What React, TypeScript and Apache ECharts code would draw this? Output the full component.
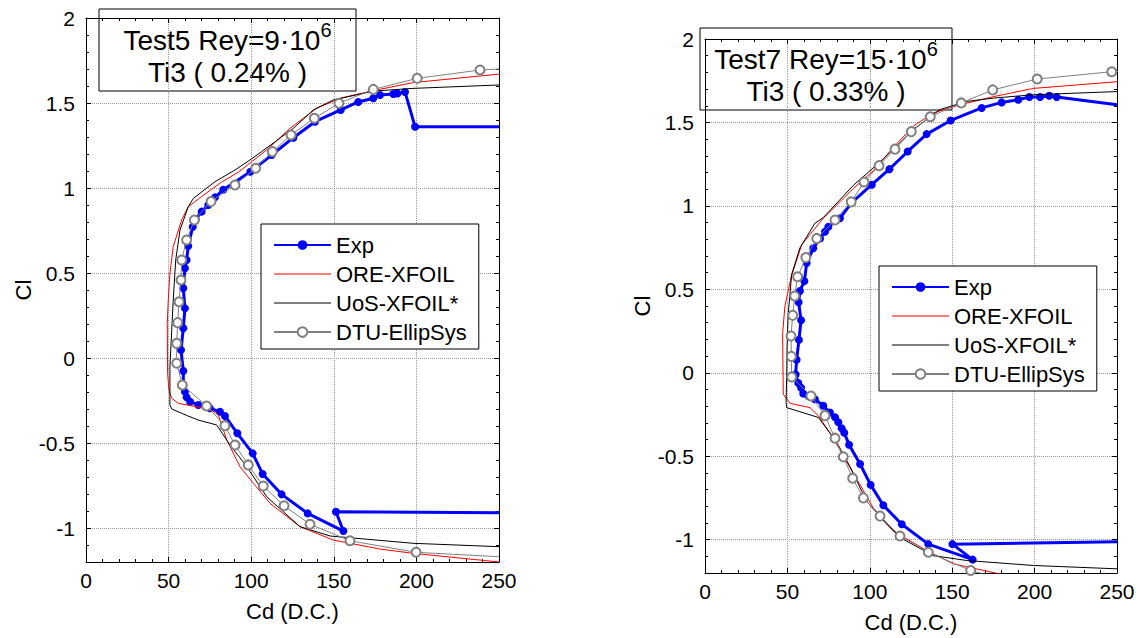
import React, { useEffect, useRef } from "react";
import * as echarts from "echarts";

const FONT = "'Liberation Sans', Arial, sans-serif";

const SERIES_NAMES = ["Exp", "ORE-XFOIL", "UoS-XFOIL*", "DTU-EllipSys"];
const X_TICKS = [0, 50, 100, 150, 200, 250];
const Y_RANGE = [-1.2, 2];

// ---- Test5, Rey = 9e6 ----
const exp5: number[][] = [
  [250, -0.91], [151.3, -0.904], [155.8, -1.018], [134.2, -0.914], [118.4, -0.802], [106.9, -0.682],
  [100.9, -0.561], [91.6, -0.443], [84.1, -0.341], [81.1, -0.316], [75, -0.296], [68, -0.276],
  [63, -0.257], [60.9, -0.231], [59.9, -0.198], [58.9, -0.169], [58.9, -0.076], [57.5, 0.047],
  [58.9, 0.175], [59.9, 0.292], [58.9, 0.41], [59.9, 0.528], [60.9, 0.576], [61.9, 0.659],
  [64.6, 0.772], [66.4, 0.816], [70, 0.861], [74, 0.9], [78.1, 0.945], [83.1, 0.99],
  [99.5, 1.096], [112.4, 1.194], [125.5, 1.296], [138.6, 1.39], [154.2, 1.459], [164.8, 1.506],
  [173.9, 1.528], [178, 1.547], [186, 1.553], [188.5, 1.556], [193.1, 1.565], [199.2, 1.36], [250, 1.36],
];
const ore5: number[][] = [
  [250, -1.2], [198.1, -1.149], [178, -1.124], [149.7, -1.071], [129.5, -0.992], [111.4, -0.855],
  [101.3, -0.737], [93.2, -0.639], [85.2, -0.482], [80.1, -0.335], [76.5, -0.31], [72, -0.296],
  [55.9, -0.267], [51.9, -0.237], [50.2, -0.188], [49.4, -0.09], [49.2, 0.204], [49.8, 0.341],
  [50.8, 0.498], [52.8, 0.655], [57.9, 0.812], [61.9, 0.89], [70, 0.95], [82.1, 1.035],
  [92.5, 1.095], [109.4, 1.224], [123.5, 1.351], [139.6, 1.469], [153.8, 1.528], [174, 1.573],
  [198, 1.62], [250, 1.67],
];
const uos5: number[][] = [
  [250, -1.11], [198, -1.09], [147.7, -1.047], [129.5, -0.992], [109.4, -0.816], [97.3, -0.639],
  [87.2, -0.512], [79.1, -0.394], [68, -0.365], [61.5, -0.34], [51.9, -0.3], [50.8, -0.276],
  [50.8, -0.228], [50.8, -0.051], [51.9, 0.165], [52.8, 0.341], [54.3, 0.576], [56.9, 0.753],
  [61.9, 0.89], [65, 0.939], [78.1, 1.037], [90.2, 1.106], [99.3, 1.165], [106.3, 1.214],
  [125.5, 1.351], [137.6, 1.459], [149.7, 1.518], [174, 1.57], [198, 1.586], [250, 1.606],
];
const dtu5: number[][] = [
  [250, -1.169], [199.8, -1.143], [159.8, -1.075], [135.6, -0.978], [119.9, -0.869], [107.3, -0.753],
  [98.2, -0.629], [90.2, -0.512], [84.1, -0.398], [73, -0.282], [58.3, -0.159], [54.9, -0.031],
  [54.9, 0.086], [55.5, 0.208], [56.3, 0.331], [57.5, 0.459], [57.9, 0.576], [60.9, 0.694],
  [65.6, 0.812], [75.7, 0.92], [90.2, 1.018], [102.7, 1.116], [112.8, 1.214], [124.1, 1.312],
  [138.2, 1.41], [153.1, 1.498], [173.9, 1.58], [200.5, 1.645], [238.5, 1.694], [250, 1.7],
];

// ---- Test7, Rey = 15e6 ----
const exp7: number[][] = [
  [250, -1.013], [150.1, -1.027], [162.4, -1.12], [135.5, -1.027], [119.4, -0.908], [108.2, -0.794],
  [100.5, -0.672], [94.1, -0.547], [87.4, -0.431], [84.5, -0.36], [82.9, -0.333], [80.9, -0.297],
  [78.9, -0.267], [75.8, -0.238], [71.8, -0.198], [66.7, -0.159], [62.7, -0.139], [59.6, -0.124],
  [58.3, -0.09], [56.6, -0.061], [55, -0.011], [55.6, 0.078], [57, 0.197], [58.3, 0.315],
  [56.8, 0.423], [57.6, 0.49], [60.3, 0.549], [61.7, 0.657], [65.7, 0.746], [69.8, 0.805],
  [72.8, 0.845], [74.8, 0.874], [81.9, 0.926], [89, 1.02], [101.2, 1.127], [111.9, 1.22],
  [123, 1.326], [134.5, 1.43], [149.1, 1.512], [167.9, 1.587], [180, 1.62], [190.1, 1.636],
  [196.8, 1.652], [203.3, 1.652], [208.9, 1.66], [213.4, 1.652], [250, 1.606],
];
const ore7: number[][] = [
  [190, -1.23], [150.7, -1.145], [134.5, -1.066], [114.3, -0.948], [102.1, -0.81], [94.1, -0.672],
  [86, -0.534], [76.9, -0.376], [68.7, -0.257], [63.7, -0.209], [51.6, -0.183], [47.5, -0.128],
  [47.1, 0.235], [48.5, 0.4], [52.2, 0.571], [58.7, 0.768], [71.8, 0.926], [90, 1.104],
  [102.1, 1.211], [114.3, 1.35], [126.4, 1.478], [138.5, 1.557], [155, 1.606], [175.2, 1.655],
  [199.3, 1.704], [219.5, 1.72], [250, 1.744],
];
const uos7: number[][] = [
  [250, -1.175], [199.3, -1.155], [158.8, -1.125], [138.5, -1.096], [118.3, -0.987], [110.3, -0.908],
  [98.1, -0.77], [88, -0.563], [79.9, -0.415], [68.8, -0.268], [49.6, -0.209], [49.2, -0.179],
  [49.6, -0.001], [49.8, 0.157], [50.5, 0.353], [52.6, 0.59], [57.6, 0.748], [66.7, 0.896],
  [71.8, 0.93], [90, 1.123], [108.2, 1.281], [126.4, 1.458], [142.6, 1.577], [158.8, 1.626],
  [175.2, 1.646], [199.3, 1.666], [250, 1.685],
];
const dtu7: number[][] = [
  [185, -1.25], [161.2, -1.185], [135.5, -1.076], [118.3, -0.978], [106.2, -0.859], [96.1, -0.75],
  [89.6, -0.632], [83.9, -0.504], [78.9, -0.392], [72.8, -0.257], [64.3, -0.139], [52.6, -0.025],
  [52.4, 0.098], [52.2, 0.22], [53.2, 0.344], [54.4, 0.46], [56.2, 0.575], [61.2, 0.69],
  [67.8, 0.805], [78.9, 0.915], [88.7, 1.024], [96.5, 1.143], [105.6, 1.241], [115.3, 1.34],
  [125.2, 1.445], [136.7, 1.534], [155.5, 1.617], [174.6, 1.695], [201.6, 1.76], [246.8, 1.804],
  [260, 1.81],
];

const TITLES = [
  { main: "Test5 Rey=9·10", sup: "6", sub: "Ti3 ( 0.24% )" },
  { main: "Test7 Rey=15·10", sup: "6", sub: "Ti3 ( 0.33% )" },
];

const toData = (pts: number[][]) =>
  pts.map(([x, y]) =>
    x >= X_TICKS[X_TICKS.length - 1] || y <= Y_RANGE[0] ? { value: [x, y], symbol: "none" } : [x, y]
  );

const GRIDS = [
  { left: 86, top: 18, width: 413, height: 544 },
  { left: 705, top: 39, width: 412, height: 541 },
];
const LEGEND_POS = [
  { left: 261, top: 224 },
  { left: 879, top: 266 },
];
const TITLE_BOX = [
  { x: 99, y: 9, w: 257, h: 82 },
  { x: 700, y: 28, w: 252, h: 82 },
];
const Y_NAME_GAP = [45, 44];

const LINE_ICON = "path://M0,0L57,0L57,1L0,1Z";

export default function App() {
  const ref = useRef<HTMLDivElement>(null);
  useEffect(() => {
    if (!ref.current) return;
    const chart = echarts.init(ref.current, null, { renderer: "svg" });
    const black = "#000";
    const datasets = [
      [exp5, ore5, uos5, dtu5],
      [exp7, ore7, uos7, dtu7],
    ];
    const xAxes: any[] = [];
    const yAxes: any[] = [];
    const series: any[] = [];
    const legends: any[] = [];
    const graphics: any[] = [];
    GRIDS.forEach((g, gi) => {
      const baseX = {
        gridIndex: gi,
        type: "value",
        min: X_TICKS[0],
        max: X_TICKS[X_TICKS.length - 1],
        interval: X_TICKS[1] - X_TICKS[0],
        axisLine: { show: true, onZero: false, lineStyle: { color: black, width: 1 } },
        axisTick: { show: true, inside: true, length: 5, lineStyle: { color: black } },
        minorTick: { show: true, splitNumber: 5, length: 3, lineStyle: { color: black } },
      };
      xAxes.push({
        ...baseX,
        position: "bottom",
        axisLabel: { fontSize: 21, color: black, fontFamily: FONT, margin: 8 },
        splitLine: { show: true, lineStyle: { color: "#999", type: "dotted", width: 1 } },
        name: "Cd (D.C.)",
        nameLocation: "middle",
        nameGap: 38,
        nameTextStyle: { fontSize: 22, color: black, fontFamily: FONT },
      });
      xAxes.push({
        ...baseX,
        position: "top",
        axisLabel: { show: false },
        splitLine: { show: false },
      });
      const baseY = {
        gridIndex: gi,
        type: "value",
        min: Y_RANGE[0],
        max: Y_RANGE[1],
        axisLine: { show: true, onZero: false, lineStyle: { color: black, width: 1 } },
        axisTick: { show: true, inside: true, length: 5, lineStyle: { color: black } },
        minorTick: { show: true, splitNumber: 5, length: 3, lineStyle: { color: black } },
      };
      yAxes.push({
        ...baseY,
        position: "left",
        axisLabel: { fontSize: 21, color: black, fontFamily: FONT, margin: 11, showMinLabel: false },
        splitLine: { show: true, lineStyle: { color: "#999", type: "dotted", width: 1 } },
        name: "Cl",
        nameLocation: "middle",
        nameGap: Y_NAME_GAP[gi],
        nameTextStyle: { fontSize: 22, color: black, fontFamily: FONT },
      });
      yAxes.push({
        ...baseY,
        position: "right",
        axisLabel: { show: false },
        splitLine: { show: false },
      });
      const [e, o, u, d] = datasets[gi];
      const xi = gi * 2;
      const yi = gi * 2;
      series.push({
        name: SERIES_NAMES[0], type: "line", xAxisIndex: xi, yAxisIndex: yi, data: toData(e),
        symbol: "circle", symbolSize: 8, lineStyle: { color: "#0000ff", width: 3 },
        itemStyle: { color: "#0000ff" }, z: 2,
      });
      series.push({
        name: SERIES_NAMES[1], type: "line", xAxisIndex: xi, yAxisIndex: yi, data: o,
        symbol: "none", lineStyle: { color: "#ff0000", width: 1 }, itemStyle: { color: "#ff0000" }, z: 3,
      });
      series.push({
        name: SERIES_NAMES[2], type: "line", xAxisIndex: xi, yAxisIndex: yi, data: u,
        symbol: "none", lineStyle: { color: "#000000", width: 1 }, itemStyle: { color: "#000000" }, z: 3,
      });
      series.push({
        name: SERIES_NAMES[3], type: "line", xAxisIndex: xi, yAxisIndex: yi, data: toData(d),
        symbol: "emptyCircle", symbolSize: 9, lineStyle: { color: "#808080", width: 1 },
        itemStyle: { color: "#808080", borderWidth: 1 }, z: 4,
      });
      legends.push({
        ...LEGEND_POS[gi],
        orient: "vertical",
        data: [
          { name: SERIES_NAMES[0] },
          { name: SERIES_NAMES[1], icon: LINE_ICON },
          { name: SERIES_NAMES[2], icon: LINE_ICON },
          { name: SERIES_NAMES[3] },
        ],
        selectedMode: false,
        backgroundColor: "#fff",
        borderColor: black,
        borderWidth: 1,
        borderRadius: 0,
        padding: [10, 12, 6, 12],
        itemWidth: 57,
        itemHeight: 12,
        itemGap: 7,
        textStyle: { fontSize: 22, color: black, fontFamily: FONT, lineHeight: 22 },
        z: 10,
      });
      const b = TITLE_BOX[gi];
      const t = TITLES[gi];
      graphics.push({
        type: "group",
        z: 100,
        children: [
          { type: "rect", shape: { x: b.x, y: b.y, width: b.w, height: b.h }, style: { fill: "#fff", stroke: black, lineWidth: 1 } },
          {
            type: "text", x: b.x + b.w / 2, y: b.y + 31,
            style: {
              text: `{m|${t.main}}{s|${t.sup}}`, align: "center", verticalAlign: "middle",
              rich: {
                m: { fontSize: 28, fontFamily: FONT, fill: black, lineHeight: 40 },
                s: { fontSize: 20, fontFamily: FONT, fill: black, lineHeight: 20, verticalAlign: "top" },
              },
            },
          },
          {
            type: "text", x: b.x + b.w / 2, y: b.y + 63,
            style: { text: t.sub, align: "center", verticalAlign: "middle", fontSize: 28, fontFamily: FONT, fill: black },
          },
        ],
      });
    });
    chart.setOption({
      animation: false,
      backgroundColor: "#fff",
      textStyle: { fontFamily: FONT },
      grid: GRIDS,
      xAxis: xAxes,
      yAxis: yAxes,
      legend: legends,
      series,
      graphic: graphics,
    });
    return () => chart.dispose();
  }, []);
  return <div ref={ref} style={{ position: "absolute", left: 0, top: 0, width: 1140, height: 638 }} />;
}
